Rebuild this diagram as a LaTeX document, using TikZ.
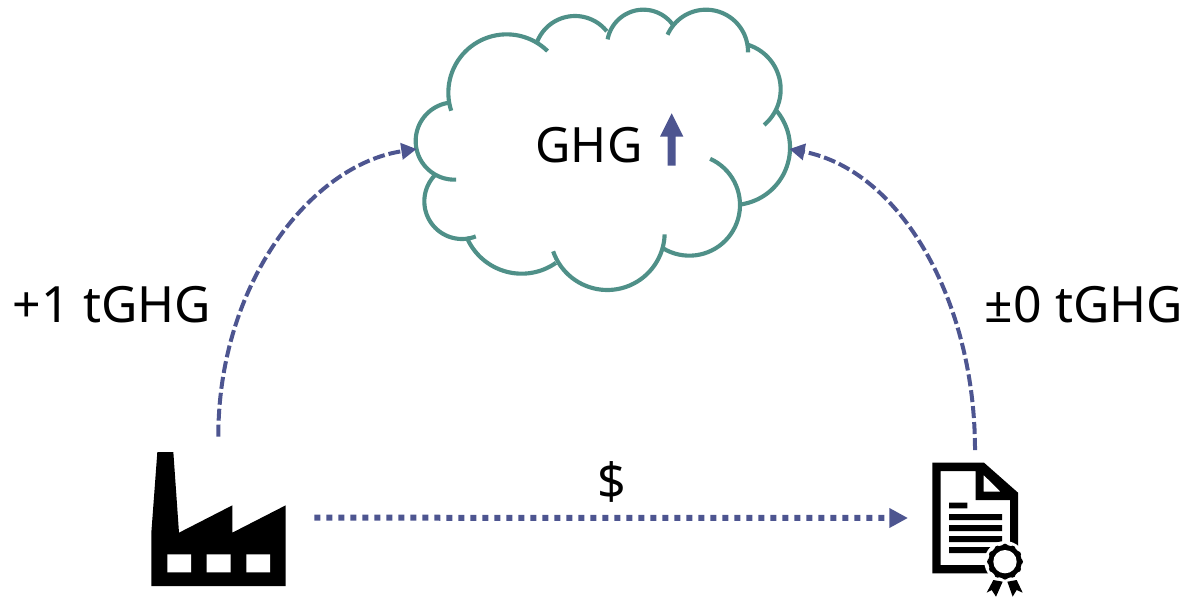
\documentclass[tikz,border=0pt]{standalone}
\usepackage{fontspec}
\setmainfont{Noto Sans}
\usetikzlibrary{arrows.meta}
\definecolor{teal1}{HTML}{4F9088}
\definecolor{blue1}{HTML}{4D5590}
\tikzset{
  cloudarc/.style={draw=teal1,line width=3.1pt,line cap=butt},
  lbl/.style={anchor=base,font=\fontsize{37.5}{40}\selectfont,text=black,inner sep=0pt},
  dashlink/.style={draw=blue1,line width=3pt,dash pattern=on 9pt off 3pt,-{Triangle[length=11.5pt,width=12pt,fill=blue1]}},
  dotlink/.style={draw=blue1,line width=4.5pt,dash pattern=on 4.5pt off 4.5pt,-{Triangle[length=14pt,width=14pt,fill=blue1]}},
}
\newcommand{\cloudseg}[5]{\draw[cloudarc] plot[domain=#4:#5,samples=40,variable=\t] ({#1+#3*cos(\t)},{#2+#3*sin(\t)});}
\begin{document}
\begin{tikzpicture}[x=0.75pt,y=-0.75pt]
\useasboundingbox (0,0) rectangle (1187,597);
% cloud (coordinates in 3x crop units)
\begin{scope}[shift={(400,0)},x=0.25pt,y=-0.25pt]
\cloudseg{320}{278}{175}{162}{314.5}
\cloudseg{525}{170}{122}{201.7}{321.3}
\cloudseg{730}{138}{109}{190.5}{324}
\cloudseg{918}{155}{126}{203.8}{361}
\cloudseg{1002}{268}{140}{287}{409.8}
\cloudseg{998}{443}{172}{-41}{82.6}
\cloudseg{868}{615}{152}{-65.7}{121}
\cloudseg{622}{698}{172}{1.7}{161}
\cloudseg{365}{642}{179}{55}{157.3}
\cloudseg{186}{604}{113}{68.6}{222.6}
\cloudseg{163}{423}{116}{87.5}{263.6}
\fill[blue1] (815,340)--(850,410)--(827,410)--(827,497)--(803,497)--(803,410)--(780,410)--cycle;
\coordinate (cloudL) at (50,447);
\coordinate (cloudR) at (1168,447);
\end{scope}
\node[lbl,font=\fontsize{36.5}{40}\selectfont] (ghg) at (589,162) {GHG};
\node[lbl] (plus) at (112,322) {+1 tGHG};
\node[lbl] (pm) at (1084,322) {±0 tGHG};
\node[lbl] (dollar) at (612,499) {\$};
% factory
\begin{scope}[shift={(130,430)},x=0.25pt,y=-0.25pt]
\fill[black] (82,66)--(130,66)--(147,308)--(307,226)--(307,308)--(467,226)--(467,468)--(64,468)--(64,308)--cycle;
\fill[white] (112,373) rectangle (183,427) (230,373) rectangle (302,427) (349,373) rectangle (420,427);
\coordinate (factoryT) at (265,20);
\coordinate (factoryR) at (553,263);
\end{scope}
% certificate
\begin{scope}[shift={(890,440)},x=0.25pt,y=-0.25pt]
\fill[black,even odd rule] (127,68)--(282,68)--(384,158)--(384,340)--(300,400)--(127,400)--cycle
  (152,93)--(257,93)--(257,180)--(360,180)--(360,375)--(152,375)--cycle
  (281,105)--(332,155)--(281,155)--cycle;
\fill[black] (177,188) rectangle (232,205) (177,222) rectangle (336,240) (177,255) rectangle (336,273) (177,288) rectangle (336,306) (177,321) rectangle (310,339);
\fill[white] (345,365) circle[radius=62];
\fill[black] (345,365) circle[radius=50];
\foreach \a in {0,30,...,330}{\fill[black] (345,365)++(\a:44) circle[radius=10];}
\fill[white] (345,365) circle[radius=35];
\fill[black] (310,420)--(338,425)--(318,470)--(305,450)--(290,458)--cycle;
\fill[black] (352,425)--(380,420)--(398,458)--(380,450)--(368,470)--cycle;
\coordinate (certT) at (255,30);
\coordinate (certL) at (54,234);
\end{scope}
\draw[dashlink] (factoryT) .. controls (218,285) and (310,165) .. (cloudL);
\draw[dashlink] (certT) .. controls (975,300) and (900,170) .. (cloudR);
\draw[dotlink] (factoryR) -- (certL);
\end{tikzpicture}
\end{document}
